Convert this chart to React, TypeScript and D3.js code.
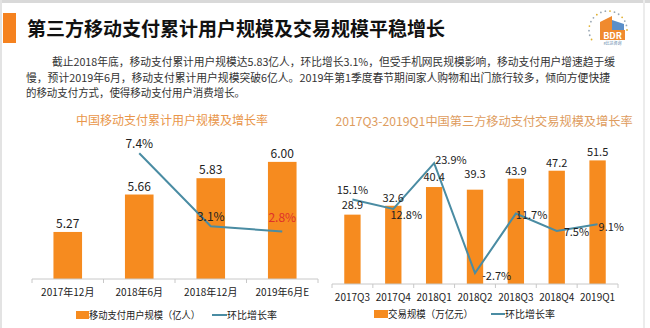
import React from "react";
import * as d3 from "d3";

// ---------- data ----------
const leftCategories = ["2017年12月", "2018年6月", "2018年12月", "2019年6月E"];
const leftUsers = [5.27, 5.66, 5.83, 6.0];
const leftGrowth: (number | null)[] = [null, 7.4, 3.1, 2.8];

const rightCategories = ["2017Q3", "2017Q4", "2018Q1", "2018Q2", "2018Q3", "2018Q4", "2019Q1"];
const rightVolume = [28.9, 32.6, 40.4, 39.3, 43.9, 47.2, 51.5];
const rightGrowth = [15.1, 12.8, 23.9, -2.7, 11.7, 7.5, 9.1];

const headline = "第三方移动支付累计用户规模及交易规模平稳增长";
const paragraphLines = [
  "截止2018年底，移动支付累计用户规模达5.83亿人，环比增长3.1%，但受手机网民规模影响，移动支付用户增速趋于缓",
  "慢，预计2019年6月，移动支付累计用户规模突破6亿人。2019年第1季度春节期间家人购物和出门旅行较多，倾向方便快捷",
  "的移动支付方式，使得移动支付用户消费增长。",
];
const leftTitle = "中国移动支付累计用户规模及增长率";
const rightTitle = "2017Q3-2019Q1中国第三方移动支付交易规模及增长率";
const leftLegend = ["移动支付用户规模（亿人）", "环比增长率"];
const rightLegend = ["交易规模（万亿元）", "环比增长率"];

// ---------- style ----------
const FONT = "'Noto Sans CJK SC', 'Noto Sans', sans-serif";
const ORANGE = "#F68B1F";
const LINE = "#4A8CA3";
const TEXT = "#222";

// label offsets (relative to the mark)
const leftRateOffsets = [
  [0, 0],
  [0, -5],
  [0, -5],
  [0, -9],
];
const rightRateOffsets: [number, number, string][] = [
  [0, -5, "middle"],
  [13, 10, "middle"],
  [1, 1, "start"],
  [7, 7, "start"],
  [0, 5, "start"],
  [7, 5, "start"],
  [1, 7, "start"],
];
const rightValueOffsets = [-6, -4, -6, -12, -4, -4, -4];

export default function App() {
  // left chart scales
  const lx = d3.scaleBand<string>().domain(leftCategories).range([32, 318]).paddingInner(0.6).paddingOuter(0.3);
  const lBase = 279;
  const ly = d3.scaleLinear().domain([4.78, 6.2]).range([lBase, lBase - 1.42 * 96]);
  const lr = d3.scaleLinear().domain([0, 8]).range([lBase, lBase - 136]);
  const leftEdges = d3.range(leftCategories.length + 1).map((i) => 32 + i * ((318 - 32) / leftCategories.length));

  const leftLinePts = leftGrowth
    .map((g, i) => (g == null ? null : ([lx(leftCategories[i])! + lx.bandwidth() / 2, lr(g)] as [number, number])))
    .filter((p): p is [number, number] => p != null);
  const leftLine = d3.line()(leftLinePts) || "";

  // right chart scales
  const rx = d3.scaleBand<string>().domain(rightCategories).range([332, 618]).paddingInner(0.6).paddingOuter(0.3);
  const rBase = 284;
  const ry = d3.scaleLinear().domain([0, 60]).range([rBase, rBase - 144]);
  const rr = d3.scaleLinear().domain([0, 25]).range([262, 262 - 103.5]);
  const rightEdges = d3.range(rightCategories.length + 1).map((i) => 332 + i * ((618 - 332) / rightCategories.length));
  const rightLinePts = rightGrowth.map((g, i) => [rx(rightCategories[i])! + rx.bandwidth() / 2, rr(g)] as [number, number]);
  const rightLine = d3.line()(rightLinePts) || "";

  // logo dots
  const logoDots = d3.range(0, 16).map((i) => {
    const a = ((150 + i * 14) * Math.PI) / 180;
    return [608 + 19 * Math.cos(a), 30 + 19 * Math.sin(a)];
  });

  return (
    <svg
      width={650}
      height={328}
      style={{ position: "absolute", left: 0, top: 0, background: "#fff" }}
      fontFamily={FONT}
    >
      <rect x={0} y={0} width={650} height={328} fill="#fff" />
      {/* frame */}
      <rect x={0} y={0} width={650} height={3} fill="#d9d9d9" />
      <rect x={0} y={0} width={2} height={328} fill="#e3e3e3" />
      <rect x={643} y={0} width={2} height={328} fill="#ececec" />

      {/* header */}
      <rect x={3} y={13} width={13} height={30} fill="#F5821F" />
      <text x={27} y={36} fontSize={19} fontWeight="bold" fill="#111" textLength={418} lengthAdjust="spacingAndGlyphs">
        {headline}
      </text>

      {/* logo */}
      <g>
        {logoDots.map((d, i) => (
          <circle key={i} cx={d[0]} cy={d[1]} r={0.9} fill={i % 3 === 0 ? "#e0b030" : "#9aa8b4"} />
        ))}
        <polygon points="600,38 600,22 612,16 612,38" fill="#F08A2E" />
        <polygon points="612,38 612,20 624,24 624,38" fill="#5B8FC9" />
        <rect x={600} y={30} width={25} height={10} fill="#F08A2E" />
        <text x={612.5} y={38.5} fontSize={9} fontWeight="bold" fill="#fff" textAnchor="middle">
          BDR
        </text>
        <text x={612.5} y={45} fontSize={4} fill="#5b7fa8" textAnchor="middle">
          #比达咨询
        </text>
      </g>

      {/* paragraph */}
      <text x={52} y={66} fontSize={11} fill="#333" textLength={563} lengthAdjust="spacingAndGlyphs">
        {paragraphLines[0]}
      </text>
      <text x={26} y={82} fontSize={11} fill="#333" textLength={584} lengthAdjust="spacingAndGlyphs">
        {paragraphLines[1]}
      </text>
      <text x={26} y={97} fontSize={11} fill="#333" textLength={219} lengthAdjust="spacingAndGlyphs">
        {paragraphLines[2]}
      </text>

      {/* ---------- left chart ---------- */}
      <text x={172} y={125} fontSize={12} fill="#E9964A" textAnchor="middle">
        {leftTitle}
      </text>
      {leftUsers.map((v, i) => (
        <rect
          key={i}
          x={lx(leftCategories[i])}
          y={ly(v)}
          width={lx.bandwidth()}
          height={lBase - ly(v)}
          fill={ORANGE}
        />
      ))}
      <line x1={32} x2={318} y1={lBase} y2={lBase} stroke="#c8c8c8" />
      {leftEdges.map((x, i) => (
        <line key={i} x1={x} x2={x} y1={lBase} y2={lBase + 4} stroke="#c8c8c8" />
      ))}
      <path d={leftLine} fill="none" stroke={LINE} strokeWidth={2} />
      {leftUsers.map((v, i) => (
        <text
          key={i}
          x={lx(leftCategories[i])! + lx.bandwidth() / 2}
          y={ly(v) - 4}
          fontSize={12}
          fill={TEXT}
          textAnchor="middle"
        >
          {v.toFixed(2)}
        </text>
      ))}
      {leftGrowth.map((g, i) =>
        g == null ? null : (
          <text
            key={i}
            x={lx(leftCategories[i])! + lx.bandwidth() / 2 + leftRateOffsets[i][0]}
            y={lr(g) + leftRateOffsets[i][1]}
            fontSize={12}
            fill={i === 3 ? "#E0302A" : TEXT}
            textAnchor="middle"
          >
            {g.toFixed(1)}%
          </text>
        )
      )}
      {leftCategories.map((c, i) => (
        <text key={c} x={lx(c)! + lx.bandwidth() / 2} y={296} fontSize={10} fill={TEXT} textAnchor="middle">
          {c}
        </text>
      ))}
      {/* left legend */}
      <rect x={76} y={311} width={13} height={8} fill={ORANGE} />
      <text x={89} y={318.5} fontSize={10} fill={TEXT} textLength={111} lengthAdjust="spacingAndGlyphs">
        {leftLegend[0]}
      </text>
      <line x1={212} x2={227} y1={315} y2={315} stroke={LINE} strokeWidth={2} />
      <text x={227} y={318.5} fontSize={10} fill={TEXT}>
        {leftLegend[1]}
      </text>

      {/* ---------- right chart ---------- */}
      <text x={484} y={126} fontSize={12.2} fill="#DE9C5E" textAnchor="middle">
        {rightTitle}
      </text>
      {rightVolume.map((v, i) => (
        <rect
          key={i}
          x={rx(rightCategories[i])}
          y={ry(v)}
          width={rx.bandwidth()}
          height={rBase - ry(v)}
          fill={ORANGE}
        />
      ))}
      <line x1={332} x2={618} y1={rBase} y2={rBase} stroke="#c8c8c8" />
      {rightEdges.map((x, i) => (
        <line key={i} x1={x} x2={x} y1={rBase} y2={rBase + 4} stroke="#c8c8c8" />
      ))}
      <path d={rightLine} fill="none" stroke={LINE} strokeWidth={2} />
      {rightVolume.map((v, i) => (
        <text
          key={i}
          x={rx(rightCategories[i])! + rx.bandwidth() / 2}
          y={ry(v) + rightValueOffsets[i]}
          fontSize={11}
          fill={TEXT}
          textAnchor="middle"
        >
          {v.toFixed(1)}
        </text>
      ))}
      {rightGrowth.map((g, i) => (
        <text
          key={i}
          x={rx(rightCategories[i])! + rx.bandwidth() / 2 + rightRateOffsets[i][0]}
          y={rr(g) + rightRateOffsets[i][1]}
          fontSize={11}
          fill={TEXT}
          textAnchor={rightRateOffsets[i][2] as any}
        >
          {g.toFixed(1)}%
        </text>
      ))}
      {rightCategories.map((c) => (
        <text key={c} x={rx(c)! + rx.bandwidth() / 2} y={301} fontSize={10} fill={TEXT} textAnchor="middle">
          {c}
        </text>
      ))}
      {/* right legend */}
      <rect x={374} y={310} width={14} height={8} fill={ORANGE} />
      <text x={388} y={317.5} fontSize={10} fill={TEXT} textLength={85} lengthAdjust="spacingAndGlyphs">
        {rightLegend[0]}
      </text>
      <line x1={491} x2={505} y1={314} y2={314} stroke={LINE} strokeWidth={2} />
      <text x={505} y={317.5} fontSize={10} fill={TEXT}>
        {rightLegend[1]}
      </text>
    </svg>
  );
}
